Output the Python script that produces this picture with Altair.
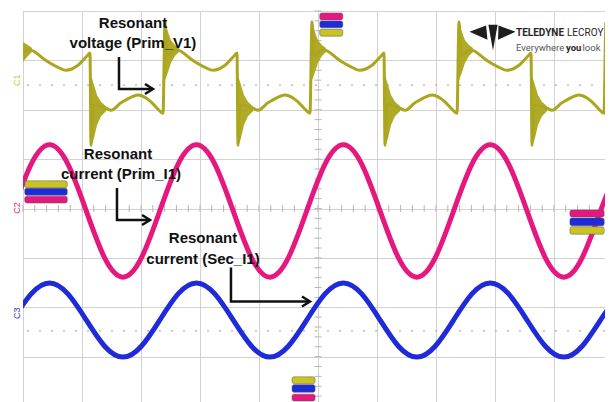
import altair as alt
import pandas as pd

# ---------------- data (x: time in screen divisions, y: divisions from centre, -4..4) -------------
# C1  Resonant voltage (Prim_V1)
YEL_X = [0.000, 0.118, 0.373, 0.559, 0.729, 0.932, 1.101, 1.135,
         1.153, 1.187, 1.407, 1.492, 1.661, 1.746, 1.950, 2.085, 2.170, 2.289, 2.373,
         2.407, 2.441, 2.610, 2.865, 3.051, 3.221, 3.424, 3.593, 3.627,
         3.644, 3.678, 3.898, 3.983, 4.152, 4.237, 4.441, 4.576, 4.661, 4.780, 4.864,
         4.898, 4.932, 5.101, 5.356, 5.542, 5.712, 5.915, 6.084, 6.118,
         6.136, 6.170, 6.390, 6.475, 6.644, 6.729, 6.933, 7.068, 7.153, 7.272, 7.356,
         7.390, 7.424, 7.593, 7.848, 8.034, 8.204, 8.407, 8.576, 8.610,
         8.627, 8.661, 8.881, 8.966, 9.135, 9.220, 9.424, 9.559, 9.644, 9.763, 9.847,
         9.881, 9.915, 10.000]
YEL_Y = [3.17, 3.21, 3.01, 2.88, 2.80, 2.90, 3.11, 3.15,
         1.28, 2.10, 2.03, 1.99, 2.14, 2.20, 2.30, 2.24, 2.16, 2.01, 1.93,
         3.78, 3.11, 3.21, 3.01, 2.88, 2.80, 2.90, 3.11, 3.15,
         1.28, 2.10, 2.03, 1.99, 2.14, 2.20, 2.30, 2.24, 2.16, 2.01, 1.93,
         3.78, 3.11, 3.21, 3.01, 2.88, 2.80, 2.90, 3.11, 3.15,
         1.28, 2.10, 2.03, 1.99, 2.14, 2.20, 2.30, 2.24, 2.16, 2.01, 1.93,
         3.78, 3.11, 3.21, 3.01, 2.88, 2.80, 2.90, 3.11, 3.15,
         1.28, 2.10, 2.03, 1.99, 2.14, 2.20, 2.30, 2.24, 2.16, 2.01, 1.93,
         3.78, 3.11, 3.17]

# ringing envelopes after each switching edge of C1
RING_EDGE = (["r0"] * 3 + ["f1"] * 5 + ["r1"] * 5 + ["f2"] * 5 + ["r2"] * 5
             + ["f3"] * 5 + ["r3"] * 5 + ["f4"] * 5 + ["r4"] * 5)
RING_X = [0.000, 0.084, 0.152,
          1.153, 1.204, 1.255, 1.322, 1.407,
          2.407, 2.458, 2.509, 2.576, 2.644,
          3.644, 3.695, 3.746, 3.813, 3.898,
          4.898, 4.949, 5.000, 5.067, 5.135,
          6.136, 6.187, 6.238, 6.305, 6.390,
          7.390, 7.441, 7.492, 7.559, 7.627,
          8.627, 8.678, 8.729, 8.796, 8.881,
          9.881, 9.932, 9.983, 10.050, 10.118]
RING_TOP = [3.37, 3.31, 3.25,
            2.70, 2.50, 2.30, 2.16, 2.07,
            3.78, 3.57, 3.41, 3.31, 3.25,
            2.70, 2.50, 2.30, 2.16, 2.07,
            3.78, 3.57, 3.41, 3.31, 3.25,
            2.70, 2.50, 2.30, 2.16, 2.07,
            3.78, 3.57, 3.41, 3.31, 3.25,
            2.70, 2.50, 2.30, 2.16, 2.07,
            3.78, 3.57, 3.41, 3.31, 3.25]
RING_BOT = [2.97, 3.09, 3.17,
            1.24, 1.43, 1.69, 1.87, 1.97,
            2.60, 2.76, 2.95, 3.09, 3.17,
            1.24, 1.43, 1.69, 1.87, 1.97,
            2.60, 2.76, 2.95, 3.09, 3.17,
            1.24, 1.43, 1.69, 1.87, 1.97,
            2.60, 2.76, 2.95, 3.09, 3.17,
            1.24, 1.43, 1.69, 1.87, 1.97,
            2.60, 2.76, 2.95, 3.09, 3.17]

# C2 Resonant current (Prim_I1) and C3 Resonant current (Sec_I1)
SINE_X = [-0.172, 0.139, 0.450, 0.761, 1.073, 1.384, 1.695, 2.006, 2.318, 2.629,
          2.940, 3.251, 3.563, 3.874, 4.185, 4.496, 4.808, 5.119, 5.430, 5.741,
          6.053, 6.364, 6.675, 6.986, 7.298, 7.609, 7.920, 8.231, 8.543, 8.854,
          9.165, 9.476, 9.788, 10.099]
PRIM_I1 = [-0.05, 0.90, 1.29, 0.90, -0.05, -1.00, -1.39, -1.00, -0.05, 0.90,
           1.29, 0.90, -0.05, -1.00, -1.39, -1.00, -0.05, 0.90, 1.29, 0.90,
           -0.05, -1.00, -1.39, -1.00, -0.05, 0.90, 1.29, 0.90, -0.05, -1.00,
           -1.39, -1.00, -0.05, 0.90]
SEC_I1 = [-2.26, -1.73, -1.51, -1.73, -2.26, -2.79, -3.01, -2.79, -2.26, -1.73,
          -1.51, -1.73, -2.26, -2.79, -3.01, -2.79, -2.26, -1.73, -1.51, -1.73,
          -2.26, -2.79, -3.01, -2.79, -2.26, -1.73, -1.51, -1.73, -2.26, -2.79,
          -3.01, -2.79, -2.26, -1.73]

# channel ground-level references
GROUND_Y = [2.50, -2.48]

# measurement tags
TAG_CH = ["C1", "C3", "C2", "C2", "C3", "C1", "C2", "C3", "C1", "C1", "C3", "C2"]
TAG_X1 = [0.03, 0.03, 0.03, 9.27, 9.27, 9.27, 5.03, 5.03, 5.03, 4.56, 4.56, 4.56]
TAG_X2 = [0.75, 0.75, 0.75, 9.85, 9.85, 9.85, 5.42, 5.42, 5.42, 4.95, 4.95, 4.95]
TAG_Y1 = [0.56, 0.41, 0.25, -0.03, -0.19, -0.37, 3.96, 3.80, 3.63, -3.41, -3.57, -3.76]
TAG_Y2 = [0.42, 0.27, 0.11, -0.17, -0.35, -0.52, 3.82, 3.66, 3.49, -3.55, -3.72, -3.90]
TAG_TEXT = ["21.4966 ms", "21.4966 ms", "21.4966 ms", "21.5966 ms", "21.5966 ms", "21.5966 ms",
            "627 A", "1.00 A", "74 V", "-326 V", "-1.00 A", "-3.16 A"]

# annotations
ANN_X = [1.864, 1.864, 1.610, 1.661, 3.051, 3.051]
ANN_Y = [3.757, 3.352, 1.104, 0.699, -0.597, -1.023]
ANN_TEXT = ["Resonant", "voltage (Prim_V1)", "Resonant", "current (Prim_I1)",
            "Resonant", "current (Sec_I1)"]

ARR_ID = ["a1"] * 3 + ["a2"] * 3 + ["a3"] * 3
ARR_ORD = [0, 1, 2] * 3
ARR_X = [1.627, 1.627, 2.203, 1.593, 1.593, 2.153, 3.525, 3.525, 4.864]
ARR_Y = [3.068, 2.420, 2.420, 0.415, -0.233, -0.233, -1.195, -1.884, -1.884]

# channel labels at the left edge
CH_LABEL = ["C1", "C2", "C3"]
CH_Y = [2.60, 0.01, -2.12]

# brand
LOGO_X = [7.958]
LOGO_Y = [3.463]
BRAND_TEXT = ["TELEDYNE", "LECROY", "Everywhere", "you", "look"]
BRAND_X = [8.356, 9.220, 8.356, 9.203, 9.483]
BRAND_Y = [3.560, 3.560, 3.250, 3.250, 3.250]

# ---------------- styling -------------
YEL = "#aba61d"
PINK = "#e5187f"
BLUE = "#1f2bd8"
GRID = "#d2d2d2"
XMAX = 582 / 59  # the visible part of the 10-division screen

XS = alt.Scale(domain=[0, XMAX], nice=False, zero=False)
YS = alt.Scale(domain=[-4, 4], nice=False, zero=False)
AX_X = alt.Axis(values=list(range(0, 10)), grid=True, labels=False, ticks=False,
                domain=False, title=None, gridColor=GRID, gridWidth=1)
AX_Y = alt.Axis(values=list(range(-4, 5)), grid=True, labels=False, ticks=False,
                domain=False, title=None, gridColor=GRID, gridWidth=1)


def X(f):
    return alt.X(f, type="quantitative", scale=XS, axis=AX_X)


def Y(f):
    return alt.Y(f, type="quantitative", scale=YS, axis=AX_Y)


ch_color = alt.Color("ch:N", scale=alt.Scale(domain=["C1", "C2", "C3"], range=["#c9c422", PINK, BLUE]),
                     legend=None)
ch_text_color = alt.Color("ch:N", scale=alt.Scale(domain=["C1", "C2", "C3"],
                                                  range=["#3d3a05", "#ffd6e8", "#5566ff"]), legend=None)

# centre graticule ticks
hx = [i / 5 for i in range(0, 50)]
vy = [i / 5 - 4 for i in range(0, 41)]
ticks_h = pd.DataFrame({"x": hx, "y": [0.0] * len(hx)})
ticks_v = pd.DataFrame({"x": [5.0] * len(vy), "y": vy})

tick_h_layer = alt.Chart(ticks_h).mark_point(shape="stroke", angle=90, size=49, color="#b5b5b5",
                                             strokeWidth=1, opacity=1).encode(x=X("x"), y=Y("y"))
tick_v_layer = alt.Chart(ticks_v).mark_point(shape="stroke", angle=0, size=49, color="#b5b5b5",
                                             strokeWidth=1, opacity=1).encode(x=X("x"), y=Y("y"))

ground = alt.Chart(pd.DataFrame({"y": GROUND_Y})).mark_rule(
    color="#b0b0b0", strokeDash=[2, 10], strokeWidth=1.2).encode(y=Y("y"))

ring = alt.Chart(pd.DataFrame({"x": RING_X, "top": RING_TOP, "bot": RING_BOT, "edge": RING_EDGE})).mark_area(
    color=YEL, clip=True, opacity=0.95).encode(x=X("x"), y=Y("top"), y2="bot", detail="edge:N")

yel = alt.Chart(pd.DataFrame({"x": YEL_X, "y": YEL_Y})).mark_line(
    color=YEL, strokeWidth=3, clip=True, interpolate="monotone").encode(x=X("x"), y=Y("y"))

pink = alt.Chart(pd.DataFrame({"x": SINE_X, "y": PRIM_I1})).mark_line(
    color=PINK, strokeWidth=5, clip=True, interpolate="natural").encode(x=X("x"), y=Y("y"))

blue = alt.Chart(pd.DataFrame({"x": SINE_X, "y": SEC_I1})).mark_line(
    color=BLUE, strokeWidth=5, clip=True, interpolate="natural").encode(x=X("x"), y=Y("y"))

tags_df = pd.DataFrame({"ch": TAG_CH, "x1": TAG_X1, "x2": TAG_X2, "y1": TAG_Y1, "y2": TAG_Y2, "t": TAG_TEXT})
tag_rect = alt.Chart(tags_df).mark_rect(cornerRadius=2, stroke="#555555", strokeWidth=0.5).encode(
    x=X("x1"), x2="x2", y=Y("y1"), y2="y2", color=ch_color)
tag_text = alt.Chart(tags_df).transform_calculate(
    xm="(datum.x1 + datum.x2) / 2", ym="(datum.y1 + datum.y2) / 2").mark_text(
    fontSize=6.5, font="Liberation Sans", baseline="middle", align="center").encode(
    x=X("xm"), y=Y("ym"), text="t:N", color=ch_text_color)

ann = alt.Chart(pd.DataFrame({"x": ANN_X, "y": ANN_Y, "t": ANN_TEXT})).mark_text(
    font="Liberation Sans", fontWeight="bold", fontSize=15, color="#111111",
    align="center", baseline="middle").encode(x=X("x"), y=Y("y"), text="t:N")

arr_df = pd.DataFrame({"id": ARR_ID, "o": ARR_ORD, "x": ARR_X, "y": ARR_Y})
arrows = alt.Chart(arr_df).mark_line(
    color="#111111", strokeWidth=2.5).encode(x=X("x"), y=Y("y"), detail="id:N", order="o:Q")

heads = alt.Chart(arr_df).transform_filter(
    "datum.o == 2").mark_point(shape="M -1.6 -1 L 0 0 L -1.6 1", size=100, filled=False,
                               color="#111111", strokeWidth=2.5, opacity=1).encode(x=X("x"), y=Y("y"))

ch_df = pd.DataFrame({"x": [-0.10] * 3, "y": CH_Y, "ch": CH_LABEL})
ch_labels = alt.Chart(ch_df).mark_text(angle=270, fontSize=9, font="Liberation Sans",
                                       baseline="middle", align="center").encode(
    x=X("x"), y=Y("y"), text="ch:N",
    color=alt.Color("ch:N", scale=alt.Scale(domain=["C1", "C2", "C3"], range=[YEL, PINK, BLUE]), legend=None))

logo = alt.Chart(pd.DataFrame({"x": LOGO_X, "y": LOGO_Y})).mark_point(
    shape=("M -1 -0.25 L -0.28 -0.52 L -0.22 0.1 Z "
           "M -0.18 -0.56 L 0.22 -0.56 L 0.02 0.56 Z "
           "M 0.26 -0.52 L 1 -0.25 L 0.24 0.1 Z"),
    size=2116, filled=True, color="#1e1e1e", opacity=1).encode(x=X("x"), y=Y("y"))

brand_df = pd.DataFrame({"x": BRAND_X, "y": BRAND_Y, "t": BRAND_TEXT})
brand_bold = alt.Chart(brand_df).transform_filter(
    "datum.t == 'TELEDYNE'").mark_text(
    font="Roboto", fontWeight="bold", fontSize=10, color="#262626",
    align="left", baseline="middle").encode(x=X("x"), y=Y("y"), text="t:N")
brand_reg = alt.Chart(brand_df).transform_filter(
    "datum.t == 'LECROY'").mark_text(
    font="Roboto", fontSize=10, color="#262626",
    align="left", baseline="middle").encode(x=X("x"), y=Y("y"), text="t:N")
brand_you = alt.Chart(brand_df).transform_filter(
    "datum.t == 'you'").mark_text(
    font="Roboto", fontWeight="bold", fontSize=9.5, color="#262626",
    align="left", baseline="middle").encode(x=X("x"), y=Y("y"), text="t:N")
brand_light = alt.Chart(brand_df).transform_filter(
    "datum.t == 'Everywhere' || datum.t == 'look'").mark_text(
    font="Roboto", fontSize=9.5, color="#555555",
    align="left", baseline="middle").encode(x=X("x"), y=Y("y"), text="t:N")

chart = alt.layer(
    ground, tick_h_layer, tick_v_layer, ring, yel, pink, blue,
    tag_rect, tag_text, arrows, heads, ann, ch_labels, logo,
    brand_bold, brand_reg, brand_you, brand_light
).properties(
    width=582, height=395,
    autosize=alt.AutoSizeParams(type="none"),
    padding={"left": 15, "top": 3, "right": 0, "bottom": 0},
    background="white",
).configure_view(stroke="#b8b8b8", strokeWidth=1)

chart.save("out.html", embed_options={"renderer": "svg", "actions": False})
